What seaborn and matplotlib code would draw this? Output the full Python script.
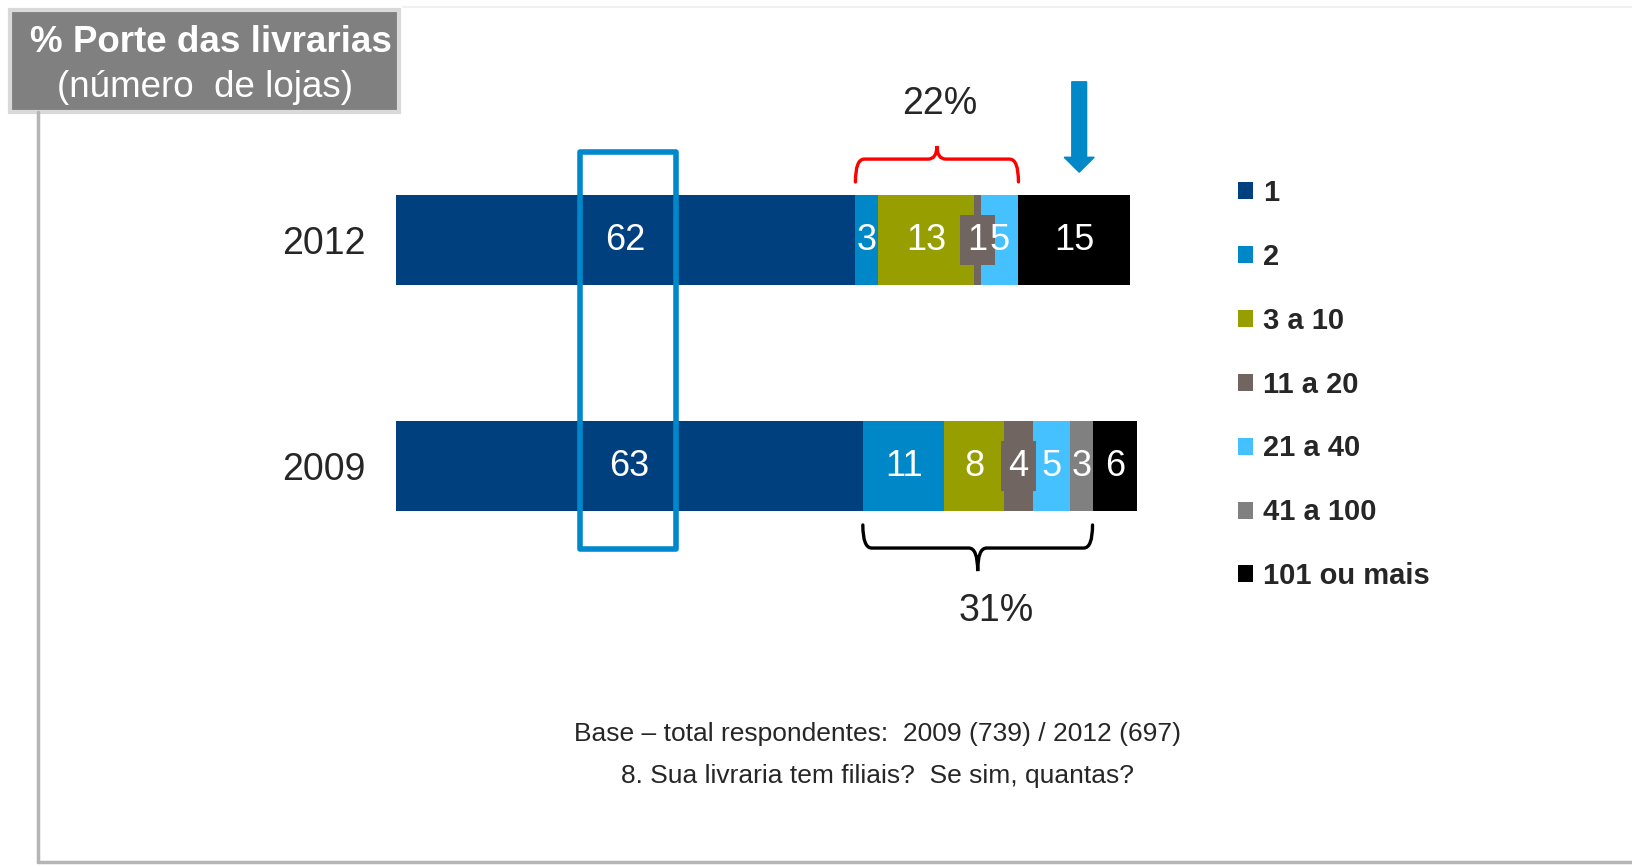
import numpy as np
import pandas as pd
import seaborn as sns
import matplotlib.pyplot as plt
from matplotlib.patches import Rectangle, FancyArrow, PathPatch
from matplotlib.path import Path
from matplotlib.lines import Line2D

years = ["2012", "2009"]
categories = ["1", "2", "3 a 10", "11 a 20", "21 a 40", "41 a 100", "101 ou mais"]
values_2012 = [62, 3, 13, 1, 5, 0, 15]
values_2009 = [63, 11, 8, 4, 5, 3, 6]
colors = ["#00407f", "#0087c8", "#969e00", "#706560", "#45c1ff", "#808080", "#000000"]

sns.set_style("white")
plt.rcParams["font.family"] = ["Liberation Sans", "DejaVu Sans"]

df = pd.DataFrame({"2012": values_2012, "2009": values_2009}, index=categories)
cum = df.cumsum()

W, H = 1633, 866
fig = plt.figure(figsize=(W / 100, H / 100), dpi=100)
ax = fig.add_axes([396 / W, 1 - 600 / H, 741 / W, 470 / H])

# stacked bars: draw cumulative totals from the widest down
for i in range(len(categories) - 1, -1, -1):
    sns.barplot(x=cum.iloc[i].values, y=years, order=years, orient="h",
                color=colors[i], saturation=1, width=0.394, linewidth=0,
                errorbar=None, label=categories[i], ax=ax)

handles, labels = ax.get_legend_handles_labels()
if ax.get_legend() is not None:
    ax.get_legend().remove()

ax.set_xlim(0, 100)
ax.set_ylim(1 + 134 / 226, -110 / 226)
ax.set_xticks([])
ax.set_xlabel("")
ax.set_ylabel("")
ax.tick_params(axis="y", length=0, labelsize=27, pad=22)
sns.despine(ax=ax, left=True, bottom=True)

# segment labels
for j, yr in enumerate(years):
    left = 0
    for i, cat in enumerate(categories):
        v = df.loc[cat, yr]
        if v > 0:
            kw = {}
            if cat == "11 a 20":
                kw["bbox"] = dict(boxstyle="square,pad=0.2", fc=colors[i], ec="none")
            ax.text(left + v / 2, j, str(v), ha="center", va="center",
                    color="white", fontsize=26, **kw)
        left += v

# blue highlight box around the "1" values
ax.add_patch(Rectangle((24.8, -0.39), 13.0, 1.757, fill=False, ec="#0088cc",
                       lw=4, joinstyle="round", clip_on=False, zorder=5))


def brace(x0, x1, y_end, y_h, y_tip, color):
    xm = (x0 + x1) / 2
    r = 1.2
    verts = [(x0, y_end), (x0, y_h), (x0 + r, y_h),
             (xm - r, y_h), (xm, y_h), (xm, y_tip),
             (xm, y_h), (xm + r, y_h),
             (x1 - r, y_h), (x1, y_h), (x1, y_end)]
    codes = [Path.MOVETO, Path.CURVE3, Path.CURVE3,
             Path.LINETO, Path.CURVE3, Path.CURVE3,
             Path.CURVE3, Path.CURVE3,
             Path.LINETO, Path.CURVE3, Path.CURVE3]
    ax.add_patch(PathPatch(Path(verts, codes), fill=False, ec=color, lw=2.4,
                           clip_on=False, capstyle="round"))


c12 = np.cumsum(values_2012)
c09 = np.cumsum(values_2009)
brace(c12[0], c12[4], -0.257, -0.358, -0.416, "#ff0000")
brace(c09[0], c09[5], 1.261, 1.363, 1.465, "#000000")
ax.text((c12[0] + c12[4]) / 2 + 0.4, -0.60, f"{c12[4] - c12[0]}%", ha="center",
        va="center", fontsize=27, clip_on=False)
ax.text((c09[0] + c09[5]) / 2 + 2.5, 1.64, f"{c09[5] - c09[0]}%", ha="center",
        va="center", fontsize=27, clip_on=False)

# arrow above the 101+ segment of 2012
ax.add_patch(FancyArrow(92.2, -0.70, 0, 0.40, width=2.0, head_width=4.05,
                        head_length=0.066, length_includes_head=True,
                        color="#0088c8", clip_on=False))

# legend
fig.legend(handles[::-1], labels[::-1], loc="upper left",
           bbox_to_anchor=(1238 / W, 1 - 179 / H), frameon=False,
           prop={"weight": "bold", "size": 21}, handlelength=0.52,
           handleheight=0.52, handletextpad=0.35, labelspacing=1.23,
           borderpad=0, borderaxespad=0)

# slide panel edges
fig.add_artist(Line2D([38 / W, 38 / W], [1 - 112 / H, 1 - 862 / H], color="#b5b5b5", lw=2.5))
fig.add_artist(Line2D([38 / W, 1], [1 - 862 / H, 1 - 862 / H], color="#b5b5b5", lw=2.5))
fig.add_artist(Line2D([403 / W, 1], [1 - 7 / H, 1 - 7 / H], color="#f0f0f0", lw=1.5))

# title box
fig.add_artist(Rectangle((10 / W, 1 - 112 / H), 389 / W, 102 / H, fc="#808080",
                         ec="#d9d9d9", lw=3))
fig.text(211 / W, 1 - 52 / H, "% Porte das livrarias", ha="center", va="baseline",
         color="white", fontsize=26.5, fontweight="bold")
fig.text(205 / W, 1 - 97 / H, "(número  de lojas)", ha="center", va="baseline",
         color="white", fontsize=26.5)

# footer
fig.text(878 / W, 1 - 734 / H, "Base – total respondentes:  2009 (739) / 2012 (697)",
         ha="center", va="center", fontsize=19)
fig.text(878 / W, 1 - 776 / H, "8. Sua livraria tem filiais?  Se sim, quantas?",
         ha="center", va="center", fontsize=19)

fig.savefig("out.png", dpi=100)
